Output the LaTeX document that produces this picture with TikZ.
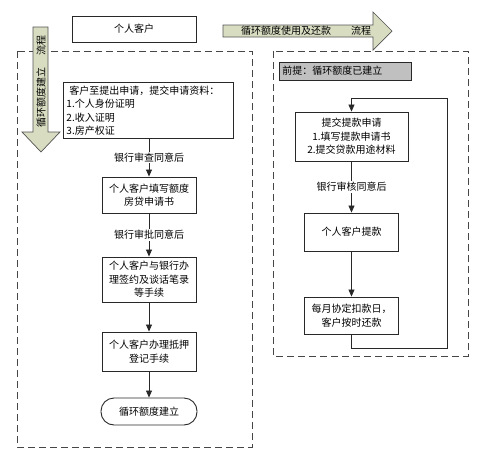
\documentclass[tikz,border=0pt]{standalone}
\usepackage{fontspec}
\newfontfamily\cjk{Noto Sans CJK SC}
\usetikzlibrary{arrows.meta}
\definecolor{edge}{RGB}{40,40,40}
\definecolor{dash}{RGB}{70,70,70}
\definecolor{olive}{RGB}{216,221,194}
\definecolor{pregray}{RGB}{192,192,192}
\tikzstyle{bx} = [draw=edge, line width=0.9pt, rectangle, fill=white, inner sep=2pt, align=center, font=\cjk\fontsize{10}{13.5}\selectfont]
\tikzstyle{term} = [draw=edge, line width=0.9pt, rounded corners=13pt, inner sep=2pt, font=\cjk\fontsize{10}{13.5}\selectfont]
\tikzstyle{lbl} = [fill=white, inner sep=1pt, font=\cjk\fontsize{10}{12}\selectfont]
\tikzstyle{frame} = [draw=dash, line width=0.9pt, dash pattern=on 7pt off 4pt]
\tikzstyle{bigarrow} = [draw=edge!80, line width=0.7pt, fill=olive]
\tikzstyle{arr} = [draw=edge, line width=0.8pt, -{Triangle[length=7pt,width=6pt]}]

\begin{document}
\begin{tikzpicture}[x=1pt,y=-1pt]
	\useasboundingbox (0,0) rectangle (482,461);
	% frames
	\draw[frame] (17,51) rectangle (252,447);
	\draw[frame] (273,51) rectangle (468,356);
	% big arrows
	\draw[bigarrow] (33,27) -- (48,27) -- (48,132) -- (60,132) -- (41,152) -- (22,132) -- (33,132) -- cycle;
	\node[rotate=90, font=\cjk\fontsize{10}{12}\selectfont] (tsetup) at (41,81) {循环额度建立\hspace{1.2em}流程};
	\draw[bigarrow] (223,25) -- (373,25) -- (373,12) -- (392,31) -- (373,50) -- (373,37) -- (223,37) -- cycle;
	\node[font=\cjk\fontsize{10}{12}\selectfont] (tuse) at (306,31) {循环额度使用及还款\hspace{2em}流程};

	% left column
	\node[bx, minimum width=124pt, minimum height=26pt] (client) at (134,29) {个人客户};
	\node[bx, anchor=north west, text width=164pt, inner xsep=3pt, minimum height=56pt, align=left] (apply) at (63,82) {%
		\hspace{3pt}客户至提出申请，提交申请资料：\\
		1.个人身份证明\\
		2.收入证明\\
		3.房产权证};
	\node[bx, minimum width=94pt, minimum height=36pt] (fill) at (149,195) {个人客户填写额度\\房贷申请书};
	\node[bx, minimum width=94pt, minimum height=45pt] (sign) at (149,279.5) {个人客户与银行办\\理签约及谈话笔录\\等手续};
	\node[bx, minimum width=94pt, minimum height=39pt] (mortgage) at (149,351.5) {个人客户办理抵押\\登记手续};
	\node[term, minimum width=96pt, minimum height=27pt] (done) at (149,411.5) {循环额度建立};

	\draw[arr] (apply.south -| fill.north) -- node[lbl] {银行审查同意后} (fill.north);
	\draw[arr] (fill) -- node[lbl] {银行审批同意后} (sign);
	\draw[arr] (sign) -- (mortgage);
	\draw[arr] (mortgage) -- (done);

	% right column
	\node[bx, fill=pregray, anchor=west, text width=126pt, inner xsep=3pt, minimum height=18pt, align=left] (pre) at (279,71) {前提：循环额度已建立};
	\node[bx, minimum width=113pt, minimum height=49pt] (draw) at (351.5,136.5) {提交提款申请\\1.填写提款申请书\\2.提交贷款用途材料};
	\node[bx, minimum width=94pt, minimum height=38pt] (take) at (351.5,232) {个人客户提款};
	\node[bx, minimum width=94pt, minimum height=37pt] (repay) at (351.5,315.5) {每月协定扣款日，\\客户按时还款};
	\coordinate (loopa) at (447,348);
	\coordinate (loopb) at (447,98);

	\draw[arr] (draw) -- node[lbl] {银行审核同意后} (take);
	\draw[arr] (take) -- (repay);
	\draw[arr] (repay.south) |- (loopa) -- (loopb) -| (draw.north);
\end{tikzpicture}
\end{document}
